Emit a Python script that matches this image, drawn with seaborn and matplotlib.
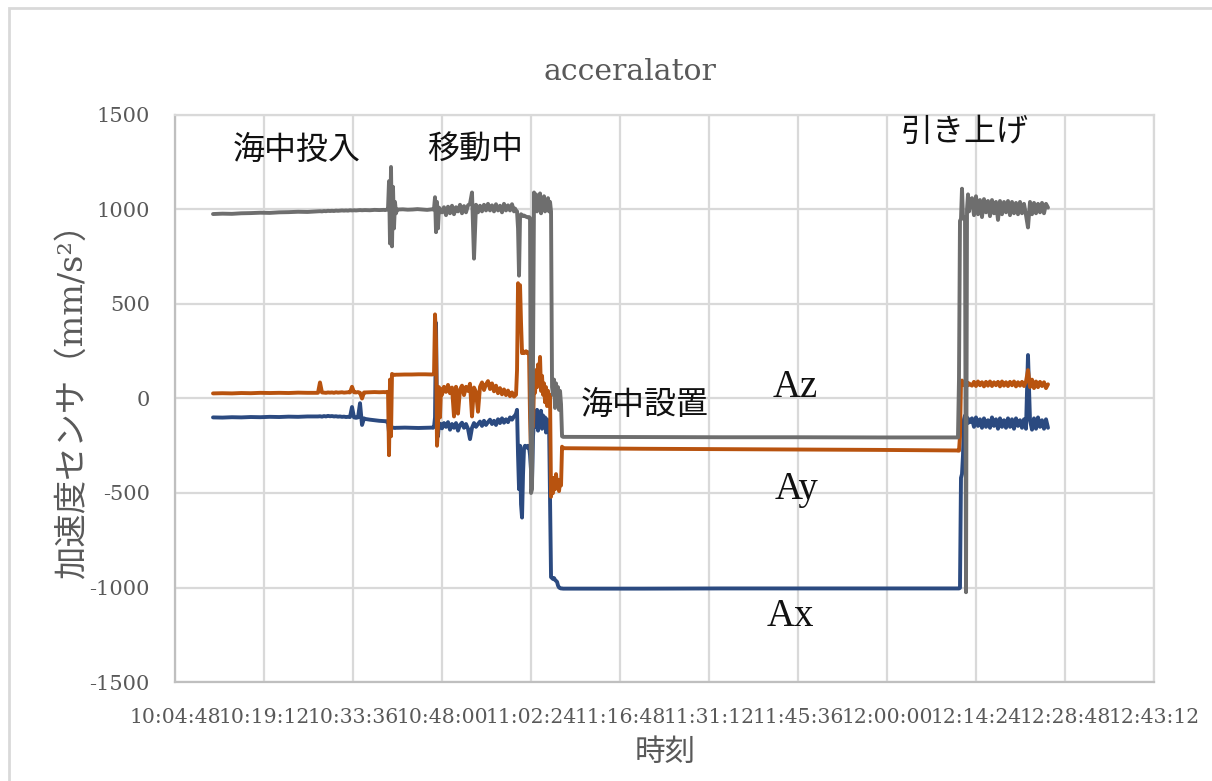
import numpy as np
import pandas as pd
import matplotlib
matplotlib.use("Agg")
import matplotlib.pyplot as plt
import matplotlib.dates as mdates
from matplotlib.patches import Rectangle
import seaborn as sns

# ---------------------------------------------------------------
# Logged accelerometer readings (mm/s^2). The record is split into
# blocks; inside a block the samples are evenly spaced in time.
# ---------------------------------------------------------------
DAY = "2020-01-01"

SEGMENT_TIMES = [
    ("10:10:57", "10:27:46"),
    ("10:27:56", "10:35:23"),
    ("10:35:33", "10:38:37"),
    ("10:38:47", "10:40:43"),
    ("10:40:53", "10:46:23"),
    ("10:46:33", "10:47:50"),
    ("10:48:00", "10:59:39"),
    ("10:59:49", "11:07:35"),
    ("11:07:44", "12:11:20"),
    ("12:11:29", "12:13:26"),
    ("12:13:45", "12:26:03"),
]

AX_VALUES = [
    [-100, -101, -99, -100, -98, -99, -97, -98, -96, -97, -95, -95],
    [-95, -94, -96, -93, -95, -92, -94, -93, -95, -94, -96, -95,
     -97, -96, -98, -97, -98, -45, -100, -102, -100, -25, -140, -105],
    [-108, -112, -115, -118, -120],
    [-120, -122, -120, -125, -180, -150, -160, -155, -154, -155, -156, -155, -155],
    [-155, -154, -155, -156, -155, -154],
    [-155, -150, -100, 400, -100, -200, -130, -140, -135],
    [-158, -130, -150, -125, -165, -135, -155, -130, -170, -140,
     -128, -155, -135, -160, -215, -155, -130, -150, -135, -122,
     -145, -118, -140, -125, -112, -135, -118, -140, -110, -130,
     -105, -128, -110, -125, -100, -112, -95],
    [-90, -80, -60, -300, -480, -250, -560, -630, -400, -260,
     -250, -255, -260, -250, -255, -300, -380, -430, -200, -120,
     -70, -150, -60, -170, -80, -150, -65, -160, -90, -140,
     -100, -180, -110, -160, -120, -520, -945, -950, -955, -950,
     -960, -965, -970, -990, -1000, -1003, -1005, -1005, -1006],
    [-1006, -1006, -1005, -1005, -1005, -1005],
    [-1005, -1005, -1002, -420, -400, -300, -110, -90, -120, -100, -130, -110, -125],
    [-105, -150, -100, -145, -110, -155, -105, -150, -115, -155,
     -100, -145, -110, -160, -105, -150, -115, -155, -105, -150,
     -110, -160, -105, -145, -115, -155, -110, -160, 230, -115,
     -165, -105, -160, -100, -150, -115, -160, -110, -155],
]

AY_VALUES = [
    [27, 28, 27, 29, 28, 30, 29, 30, 29, 31, 30, 30],
    [30, 85, 32, 31, 30, 32, 31, 32, 30, 33, 31, 32,
     33, 31, 32, 33, 32, 62, 33, 32, 34, 30, 0, 32],
    [32, 33, 34, 33, 34],
    [33, 34, 35, 35, -300, 100, -200, 130, 124, 126, 125, 126, 126],
    [126, 127, 127, 128, 128, 127],
    [128, 130, 445, 300, -250, -150, 60, -100, 50],
    [20, 62, 35, 72, 28, 58, -95, 62, -80, 48,
     68, 18, 62, 40, 78, -95, 58, 35, -70, 62,
     85, 45, 75, 92, 50, 80, 38, 68, 28, 55,
     22, 48, 18, 42, 12, 32, 10],
    [15, 20, 150, 610, 450, 600, 400, 240, 250, 240,
     245, 250, 240, 245, 240, -100, -300, 100, -150, 80,
     30, 150, 60, 180, 90, 220, 40, 120, 20, 80,
     -20, 60, -40, 40, -30, 20, -520, -450, -500, -420,
     -480, -400, -470, -430, -490, -440, -460, -255, -262],
    [-263, -266, -268, -270, -272, -275],
    [-276, -276, -200, 80, 95, 85, 70, 90, 75, 85, 70, 80, 75],
    [68, 88, 66, 90, 70, 86, 64, 88, 68, 90,
     66, 86, 70, 88, 64, 90, 68, 86, 66, 88,
     70, 90, 64, 86, 68, 88, 66, 90, 150, 60,
     100, 55, 90, 60, 88, 66, 86, 55, 75],
]

AZ_VALUES = [
    [976, 978, 977, 980, 981, 983, 982, 985, 986, 988, 987, 990],
    [990, 991, 990, 992, 991, 993, 992, 993, 992, 994, 993, 994,
     995, 994, 995, 994, 996, 995, 996, 995, 996, 997, 996, 997],
    [997, 996, 998, 997, 998],
    [997, 998, 1000, 1005, 1150, 820, 1225, 805, 1120, 900, 1040, 980, 1000],
    [1000, 1001, 999, 1000, 1002, 1000, 998, 1001],
    [1000, 1005, 1065, 880, 1040, 900, 1010, 985, 1000],
    [985, 1012, 970, 1015, 980, 1020, 975, 1012, 990, 1025,
     980, 1018, 985, 1022, 1030, 1090, 740, 1025, 985, 1020,
     990, 1025, 995, 1030, 995, 1022, 990, 1028, 995, 1020,
     985, 1030, 995, 1022, 995, 1028, 990],
    [1005, 995, 990, 900, 650, 960, 975, 970, 965, 968,
     965, 962, 960, 958, 960, 955, -500, -480, 200, 1090,
     1000, 1080, 990, 1070, 1000, 1085, 980, 1060, 1000, 1070,
     990, 1050, 1000, 1060, 990, 1040, 990, 60, 20, 100,
     -50, 80, -20, 60, -60, 40, -30, -200, -203],
    [-203, -204, -205, -205, -206, -206],
    [-206, 100, 940, 950, 1110, 960, 950, 960, -1025, 1000, 1080, 990, 1040],
    [1060, 970, 1070, 975, 1050, 960, 1055, 985, 1045, 965,
     1050, 980, 1040, 945, 1045, 975, 1040, 985, 1045, 970,
     1040, 980, 1035, 975, 1040, 980, 1030, 970, 905, 1040,
     975, 1035, 980, 1030, 985, 1035, 980, 1030, 1010],
]

SERIES_NAMES = ["Ax", "Ay", "Az"]
SERIES_COLORS = ["#2B4A80", "#B8530F", "#6E6E6E"]

X_TICKS = ["10:04:48", "10:19:12", "10:33:36", "10:48:00", "11:02:24", "11:16:48",
           "11:31:12", "11:45:36", "12:00:00", "12:14:24", "12:28:48", "12:43:12"]
Y_TICKS = [-1500, -1000, -500, 0, 500, 1000, 1500]

# Event notes: (text, time, value)
EVENT_NOTES = [
    ("海中投入", "10:24:32", 1315),
    ("移動中", "10:53:18", 1315),
    ("海中設置", "11:20:51", -34),
    ("引き上げ", "12:12:37", 1410),
]
AXIS_NOTES = [
    ("Az", "11:45:06", 56),
    ("Ay", "11:45:24", -484),
    ("Ax", "11:44:19", -1156),
]


def ts(s):
    return pd.Timestamp(f"{DAY} {s}")


rows = []
for name, blocks in zip(SERIES_NAMES, [AX_VALUES, AY_VALUES, AZ_VALUES]):
    for (t0, t1), vals in zip(SEGMENT_TIMES, blocks):
        times = pd.date_range(ts(t0), ts(t1), periods=len(vals))
        for t, v in zip(times, vals):
            rows.append((name, t, v))
df = pd.DataFrame(rows, columns=["series", "time", "value"])

sns.set_theme(style="white")
plt.rcParams["font.family"] = ["DejaVu Serif", "Noto Sans CJK JP"]
plt.rcParams["axes.unicode_minus"] = False

fig = plt.figure(figsize=(12.12, 7.81), dpi=100)
ax = fig.add_axes([175 / 1212, 1 - 682 / 781, (1154 - 175) / 1212, (682 - 115) / 781])

sns.lineplot(data=df, x="time", y="value", hue="series", hue_order=SERIES_NAMES,
             palette=SERIES_COLORS, estimator=None, sort=False, legend=False,
             linewidth=2.8, ax=ax)

xticks = [ts(t) for t in X_TICKS]
ax.set_xlim(xticks[0], xticks[-1])
ax.set_xticks(xticks)
ax.xaxis.set_major_formatter(mdates.DateFormatter("%H:%M:%S"))
ax.set_ylim(Y_TICKS[0], Y_TICKS[-1])
ax.set_yticks(Y_TICKS)
ax.set_yticklabels([str(v) for v in Y_TICKS])

ax.grid(True, color="#D9D9D9", linewidth=1.6)
ax.set_axisbelow(True)
for side in ["top", "right"]:
    ax.spines[side].set_color("#D9D9D9")
    ax.spines[side].set_linewidth(1.6)
for side in ["left", "bottom"]:
    ax.spines[side].set_color("#BFBFBF")
    ax.spines[side].set_linewidth(1.6)

ax.tick_params(axis="x", length=0, labelsize=14.7, labelcolor="#595959", pad=19)
ax.tick_params(axis="y", length=0, labelsize=15, labelcolor="#595959", pad=18)

ax.set_xlabel("時刻", fontsize=22, color="#595959", va="center",
              family=["Noto Sans CJK JP"])
ax.xaxis.set_label_coords(0.5005, -0.125)
ax.set_ylabel("加速度センサ（mm/s²）", fontsize=24, color="#595959", va="center")
ax.yaxis.set_label_coords(-0.104, 0.51)

ax.set_title("acceralator", fontsize=21.5, color="#595959", x=0.465, y=1.076,
             va="center", pad=0)

for text, t, v in EVENT_NOTES:
    ax.text(ts(t), v, text, fontsize=23, color="#111111", ha="center", va="center",
            family=["Noto Sans CJK JP"])
for text, t, v in AXIS_NOTES:
    ax.text(ts(t), v, text, fontsize=28, color="#111111", ha="center", va="center",
            family=["Liberation Serif"])

# Outer chart frame
fig.patches.append(Rectangle((9 / 1212, -0.1), 1.2, 1 - 8 / 781 + 0.1,
                             transform=fig.transFigure, fill=False,
                             edgecolor="#D9D9D9", linewidth=2))

fig.savefig("out.png", dpi=100, facecolor="white")
